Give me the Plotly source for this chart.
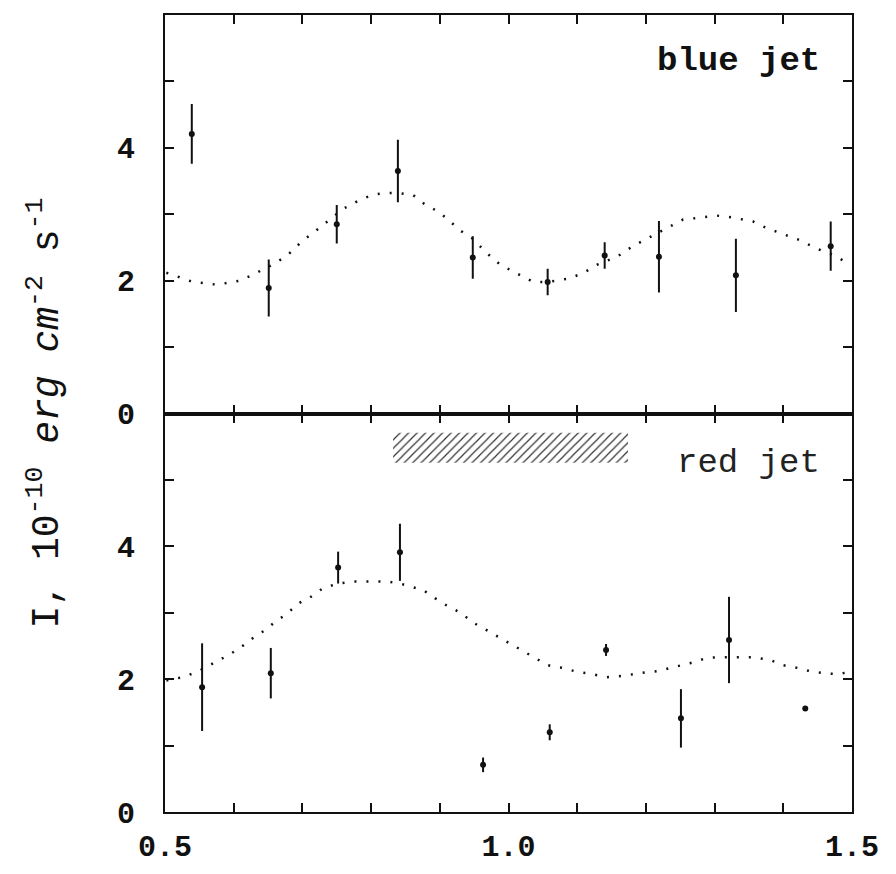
import plotly.graph_objects as go

# ---- data ----
blue_x = [0.539, 0.651, 0.750, 0.839, 0.948, 1.057, 1.140, 1.219, 1.331, 1.469]
blue_y = [4.21, 1.89, 2.85, 3.65, 2.35, 1.98, 2.38, 2.36, 2.08, 2.52]
blue_err = [0.45, 0.43, 0.29, 0.47, 0.32, 0.20, 0.20, 0.54, 0.55, 0.37]

blue_curve_x = [0.502, 0.541, 0.576, 0.609, 0.628, 0.643, 0.660, 0.679, 0.699, 0.718,
                0.736, 0.759, 0.781, 0.801, 0.820, 0.839, 0.861, 0.878, 0.896, 0.910,
                0.929, 0.947, 0.969, 0.988, 1.012, 1.036, 1.057, 1.087, 1.108, 1.129,
                1.158, 1.181, 1.203, 1.231, 1.254, 1.279, 1.303, 1.327, 1.356, 1.376,
                1.400, 1.424, 1.449, 1.472, 1.498]
blue_curve_y = [2.12, 1.98, 1.94, 2.00, 2.09, 2.17, 2.26, 2.39, 2.59, 2.74,
                2.89, 3.08, 3.20, 3.29, 3.32, 3.32, 3.29, 3.15, 3.05, 2.94,
                2.76, 2.64, 2.41, 2.24, 2.11, 1.98, 1.98, 2.03, 2.11, 2.24,
                2.36, 2.52, 2.64, 2.79, 2.92, 2.95, 2.98, 2.95, 2.89, 2.79,
                2.70, 2.61, 2.48, 2.39, 2.24]

red_x = [0.554, 0.654, 0.752, 0.842, 0.963, 1.060, 1.142, 1.251, 1.321, 1.432]
red_y = [1.88, 2.09, 3.68, 3.91, 0.71, 1.20, 2.44, 1.41, 2.59, 1.56]
red_err = [0.66, 0.38, 0.24, 0.43, 0.11, 0.12, 0.09, 0.44, 0.65, 0.0]

red_curve_x = [0.502, 0.526, 0.547, 0.570, 0.592, 0.609, 0.628, 0.646, 0.660, 0.678,
               0.694, 0.711, 0.730, 0.752, 0.774, 0.798, 0.823, 0.842, 0.861, 0.876,
               0.893, 0.910, 0.932, 0.947, 0.963, 0.988, 1.012, 1.031, 1.057, 1.079,
               1.100, 1.119, 1.143, 1.167, 1.191, 1.216, 1.239, 1.264, 1.289, 1.308,
               1.333, 1.356, 1.381, 1.400, 1.420, 1.439, 1.464, 1.483, 1.496]
red_curve_y = [1.98, 2.03, 2.11, 2.24, 2.36, 2.47, 2.62, 2.74, 2.86, 2.99,
               3.14, 3.23, 3.37, 3.44, 3.47, 3.47, 3.47, 3.44, 3.38, 3.34,
               3.22, 3.11, 2.99, 2.86, 2.77, 2.62, 2.48, 2.36, 2.21, 2.17,
               2.11, 2.08, 2.03, 2.05, 2.09, 2.12, 2.18, 2.24, 2.32, 2.33,
               2.33, 2.33, 2.29, 2.21, 2.17, 2.12, 2.08, 2.08, 2.11]

# hatched band (phase interval) in the red panel
band_start, band_end = 0.832, 1.174
band_low, band_high = 5.26, 5.71

x_major = [0.5, 1.0, 1.5]
x_major_text = ["0.5", "1.0", "1.5"]
x_minor = [0.6, 0.7, 0.8, 0.9, 1.1, 1.2, 1.3, 1.4]
y_major = [0, 2, 4]
y_major_text = ["0", "2", "4"]
y_minor = [1, 3, 5]

INK = "#111111"
MONO = "Liberation Mono, Courier New, monospace"

fig = go.Figure()

# blue jet (upper panel)
fig.add_trace(go.Scatter(
    x=blue_curve_x, y=blue_curve_y, xaxis="x2", yaxis="y2", mode="lines",
    line={"color": INK, "width": 2.5, "dash": "2px,10px"}, hoverinfo="skip",
))
fig.add_trace(go.Scatter(
    x=blue_x, y=blue_y, xaxis="x2", yaxis="y2", mode="markers",
    marker={"color": INK, "size": 6},
    error_y={"type": "data", "array": blue_err, "color": INK, "thickness": 2, "width": 0},
))

# red jet (lower panel)
fig.add_trace(go.Bar(
    x=[(band_start + band_end) / 2], y=[band_high - band_low], base=[band_low],
    width=[band_end - band_start], xaxis="x", yaxis="y",
    marker={"color": "rgba(255,255,255,0)", "line": {"width": 0},
            "pattern": {"shape": "/", "fgcolor": "#333333", "bgcolor": "rgba(255,255,255,0)",
                        "size": 6, "solidity": 0.2}},
    hoverinfo="skip",
))
fig.add_trace(go.Scatter(
    x=red_curve_x, y=red_curve_y, xaxis="x", yaxis="y", mode="lines",
    line={"color": INK, "width": 2.5, "dash": "2px,10px"}, hoverinfo="skip",
))
fig.add_trace(go.Scatter(
    x=red_x, y=red_y, xaxis="x", yaxis="y", mode="markers",
    marker={"color": INK, "size": 6},
    error_y={"type": "data", "array": red_err, "color": INK, "thickness": 2, "width": 0},
))

_axis = {
    "showline": True, "linecolor": INK, "linewidth": 2, "mirror": "allticks",
    "ticks": "inside", "ticklen": 9, "tickwidth": 2, "tickcolor": INK,
    "showgrid": False, "zeroline": False,
    "tickfont": {"family": MONO, "size": 30, "color": INK, "weight": "bold"},
}
_minor = {"ticks": "inside", "ticklen": 9, "tickwidth": 2, "tickcolor": INK, "showgrid": False}

# the page body has an 8px margin, so the figure is sized and offset to fit the window
fig.update_layout(
    template="none",
    width=880, height=858,
    paper_bgcolor="white", plot_bgcolor="white",
    margin={"l": 157, "r": 36, "t": 7, "b": 54},
    showlegend=False,
    xaxis={**_axis, "range": [0.5, 1.5], "domain": [0, 1], "anchor": "y",
           "tickvals": x_major, "ticktext": x_major_text, "ticklabelstandoff": 6,
           "minor": {**_minor, "tickvals": x_minor}},
    xaxis2={**_axis, "range": [0.5, 1.5], "domain": [0, 1], "anchor": "y2",
            "tickvals": x_major, "showticklabels": False,
            "minor": {**_minor, "tickvals": x_minor}},
    yaxis={**_axis, "range": [0, 6], "domain": [0, 0.5], "anchor": "x",
           "tickvals": y_major, "ticktext": y_major_text, "ticklabelstandoff": 22,
           "minor": {**_minor, "tickvals": y_minor}},
    yaxis2={**_axis, "range": [0, 6], "domain": [0.5, 1], "anchor": "x2",
            "tickvals": y_major, "ticktext": y_major_text, "ticklabelstandoff": 22,
            "minor": {**_minor, "tickvals": y_minor}},
    annotations=[
        {"text": "blue jet", "x": 1.456, "y": 5.3, "xref": "x2", "yref": "y2",
         "xanchor": "right", "yanchor": "middle", "showarrow": False,
         "font": {"family": MONO, "size": 34, "color": INK, "weight": "bold"}},
        {"text": "red jet", "x": 1.456, "y": 5.26, "xref": "x", "yref": "y",
         "xanchor": "right", "yanchor": "middle", "showarrow": False,
         "font": {"family": MONO, "size": 34, "color": "#222222"}},
        {"text": "I, 10<sup>-10</sup> <i>erg cm</i><sup>-2</sup> s<sup>-1</sup>",
         "x": 0, "y": 0.5, "xref": "paper", "yref": "paper", "xshift": -120,
         "showarrow": False, "textangle": -90, "xanchor": "center", "yanchor": "middle",
         "font": {"family": MONO, "size": 38, "color": INK}},
    ],
)

fig.write_html("out.html")
